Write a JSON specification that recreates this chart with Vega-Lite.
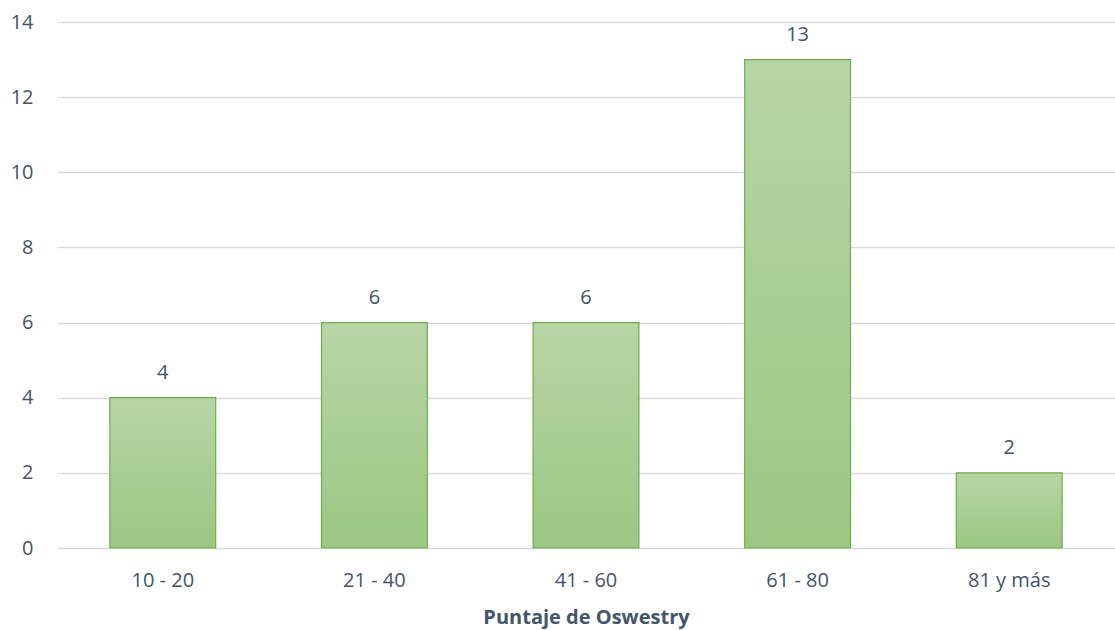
{
  "$schema": "https://vega.github.io/schema/vega-lite/v6.json",
  "width": 1058,
  "height": 526,
  "autosize": {"type": "none"},
  "padding": {"left": 57, "top": 22, "right": 0, "bottom": 82},
  "background": "white",
  "config": {
    "view": {"stroke": null},
    "font": "Open Sans"
  },
  "data": {
    "values": [
      {"rango": "10 - 20", "n": 4},
      {"rango": "21 - 40", "n": 6},
      {"rango": "41 - 60", "n": 6},
      {"rango": "61 - 80", "n": 13},
      {"rango": "81 y más", "n": 2}
    ]
  },
  "encoding": {
    "x": {
      "field": "rango",
      "type": "nominal",
      "sort": null,
      "scale": {"paddingInner": 0.5, "paddingOuter": 0.25},
      "axis": {
        "title": "Puntaje de Oswestry",
        "titleFont": "Open Sans",
        "titleFontSize": 20,
        "titleFontWeight": "bold",
        "titleColor": "#44546a",
        "titlePadding": 17,
        "labelAngle": 0,
        "labelFontSize": 20,
        "labelColor": "#44546a",
        "labelPadding": 22,
        "domain": false,
        "ticks": false
      }
    },
    "y": {
      "field": "n",
      "type": "quantitative",
      "scale": {"domain": [0, 14]},
      "axis": {
        "title": null,
        "values": [0, 2, 4, 6, 8, 10, 12, 14],
        "labelFontSize": 20,
        "labelColor": "#44546a",
        "labelPadding": 24,
        "domain": false,
        "ticks": false,
        "gridColor": "#d9dde3",
        "gridWidth": 1.5
      }
    }
  },
  "layer": [
    {
      "mark": {
        "type": "bar",
        "stroke": "#70ad47",
        "strokeWidth": 1.2,
        "fill": {
          "gradient": "linear",
          "x1": 0, "y1": 0, "x2": 0, "y2": 1,
          "stops": [
            {"offset": 0, "color": "#b6d6a5"},
            {"offset": 1, "color": "#9cc783"}
          ]
        }
      }
    },
    {
      "mark": {"type": "text", "baseline": "alphabetic", "dy": -19, "fontSize": 20, "color": "#44546a"},
      "encoding": {"text": {"field": "n", "type": "quantitative"}}
    }
  ]
}
